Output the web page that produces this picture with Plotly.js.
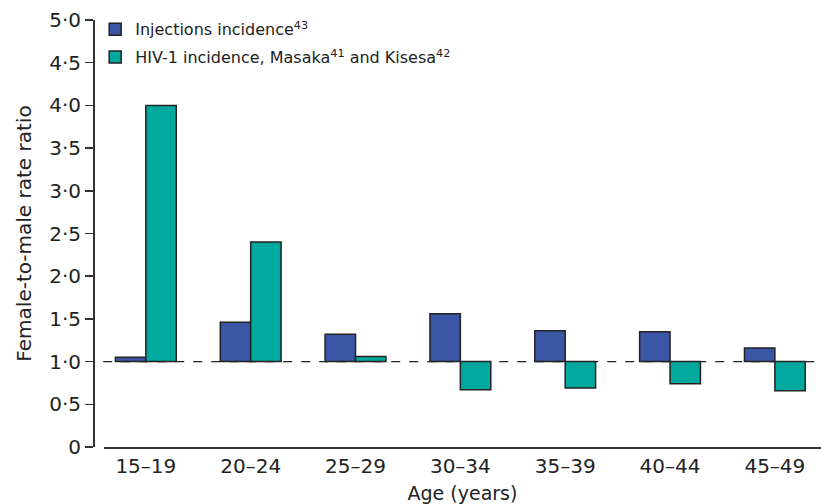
<!DOCTYPE html>
<html>
<head>
<meta charset="utf-8">
<script src="https://cdn.plot.ly/plotly-3.0.1.min.js"></script>
<style>html,body{margin:0;padding:0;background:#fff;}#chart{width:821px;height:504px;}</style>
</head>
<body>
<div id="chart"></div>
<script>
const categories = ["15–19","20–24","25–29","30–34","35–39","40–44","45–49"];
const injections = [1.05, 1.46, 1.32, 1.56, 1.36, 1.35, 1.16];
const hiv = [4.0, 2.4, 1.06, 0.67, 0.69, 0.74, 0.66];
const seriesNames = ["Injections incidence<sup>43</sup>", "HIV-1 incidence, Masaka<sup>41</sup> and Kisesa<sup>42</sup>"];
const yTickVals = [0, 0.5, 1, 1.5, 2, 2.5, 3, 3.5, 4, 4.5, 5];
const yTickText = ["0","0·5","1·0","1·5","2·0","2·5","3·0","3·5","4·0","4·5","5·0"];
const baseline = 1;

const FONT = "DejaVu Sans, Liberation Sans, sans-serif";
const traces = [
  {type:"bar", name:seriesNames[0], x:categories, y:injections.map(v=>v-baseline), base:baseline,
   marker:{color:"#3A56A5", line:{color:"#222", width:1.5}}, legendgroup:"a"},
  {type:"bar", name:seriesNames[1], x:categories, y:hiv.map(v=>v-baseline), base:baseline,
   marker:{color:"#00A99D", line:{color:"#222", width:1.5}}, legendgroup:"b"}
];
const layout = {
  width:821, height:504,
  margin:{l:93, r:0, t:20, b:57},
  paper_bgcolor:"#fff", plot_bgcolor:"#fff",
  font:{family:FONT, color:"#222", size:17},
  barmode:"group", bargap:0.42, bargroupgap:0,
  showlegend:true,
  legend:{x:0.003, y:1.018, xanchor:"left", yanchor:"top", font:{size:16, color:"#222"},
          tracegroupgap:4, traceorder:"grouped", bgcolor:"rgba(0,0,0,0)", itemwidth:30},
  xaxis:{domain:[0.015,1], range:[-0.4,6.44], showline:true, linecolor:"#333", linewidth:1.5,
         ticks:"", showgrid:false, zeroline:false, tickfont:{size:20, color:"#222"},
         title:{text:"Age (years)", font:{size:19, color:"#222"}, standoff:14}},
  yaxis:{anchor:"free", position:0, range:[0,5], tickvals:yTickVals, ticktext:yTickText,
         showline:true, linecolor:"#333", linewidth:1.5, ticks:"outside", ticklen:8, tickwidth:1.5,
         tickcolor:"#333", showgrid:false, zeroline:false, tickfont:{size:20, color:"#222"},
         title:{text:"Female-to-male rate ratio", font:{size:20, color:"#222"}, standoff:10}},
  shapes:[{type:"line", xref:"paper", yref:"y", x0:0.014, x1:1, y0:baseline, y1:baseline,
           line:{color:"#222", width:1.2, dash:"dash"}, layer:"below"}]
};
Plotly.newPlot("chart", traces, layout, {displayModeBar:false, staticPlot:true});
</script>
</body>
</html>
